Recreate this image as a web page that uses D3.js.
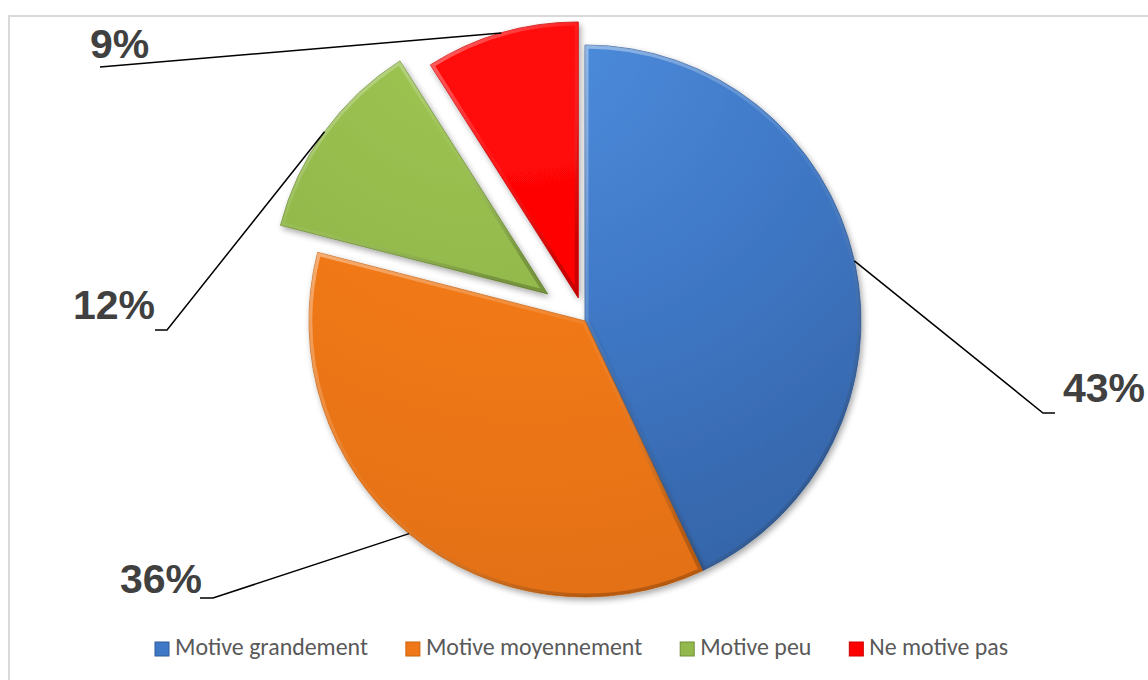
<!DOCTYPE html>
<html><head><meta charset="utf-8">
<script src="https://cdn.jsdelivr.net/npm/d3@7"></script>
<style>body{margin:0;background:#fff}svg{display:block}</style>
</head><body>
<svg id="c" width="1148" height="680"></svg>
<script>
const categories = ["Motive grandement","Motive moyennement","Motive peu","Ne motive pas"];
const values = [43, 36, 12, 9];
const labels = ["43%","36%","12%","9%"];

// styles / layout (not data)
const colors = [
  {light:"#4e8fde", base:"#3f78c6", dark:"#3463a6", edge:"#2f5b98"},
  {light:"#f47d1c", base:"#f07818", dark:"#e27012", edge:"#c8620c"},
  {light:"#a0c853", base:"#93b94c", dark:"#86a944", edge:"#708e38"},
  {light:"#ff1010", base:"#ff0000", dark:"#f40000", edge:"#cc0000"}
];
const explode = [0, 0, 46, 24];
const cx = 585, cy = 321, R = 276;
const labelLayout = [
  {elbow:[1043,413], end:[1055,413], tx:1063, ty:402, anchor:"start"},
  {elbow:[213,598], end:[200,598], tx:202, ty:593, anchor:"end"},
  {elbow:[167,330], end:[155,330], tx:155, ty:319, anchor:"end"},
  {elbow:[100,67], end:[100,67], tx:90, ty:58, anchor:"start"}
];

const svg = d3.select("#c");
const defs = svg.append("defs");
const f = defs.append("filter").attr("id","sh").attr("x","-20%").attr("y","-20%").attr("width","140%").attr("height","140%");
f.append("feGaussianBlur").attr("in","SourceAlpha").attr("stdDeviation",3).attr("result","b");
f.append("feOffset").attr("in","b").attr("dx",2).attr("dy",3).attr("result","o");
f.append("feComponentTransfer").attr("in","o").attr("result","o2").append("feFuncA").attr("type","linear").attr("slope",0.35);
const m = f.append("feMerge"); m.append("feMergeNode").attr("in","o2"); m.append("feMergeNode").attr("in","SourceGraphic");

colors.forEach((c,i)=>{
  const g = defs.append("radialGradient").attr("id","g"+i).attr("gradientUnits","userSpaceOnUse")
    .attr("cx",-60).attr("cy",-300).attr("r",R*2.2);
  g.append("stop").attr("offset","0%").attr("stop-color",c.light);
  g.append("stop").attr("offset","50%").attr("stop-color",c.base);
  g.append("stop").attr("offset","100%").attr("stop-color",c.dark);
  const lg = defs.append("linearGradient").attr("id","lg"+i).attr("x1",0).attr("y1",0).attr("x2",0.7).attr("y2",1);
  lg.append("stop").attr("offset","0%").attr("stop-color","#ffffff").attr("stop-opacity",0.4);
  lg.append("stop").attr("offset","50%").attr("stop-color","#ffffff").attr("stop-opacity",0.05);
  lg.append("stop").attr("offset","100%").attr("stop-color","#000000").attr("stop-opacity",0.2);
});

// border
svg.append("rect").attr("x",9).attr("y",16).attr("width",1160).attr("height",700)
  .attr("fill","none").attr("stroke","#d9d9d9").attr("stroke-width",2);

const pie = d3.pie().sort(null).value(d=>d)(values);
const arc = d3.arc().innerRadius(0).outerRadius(R);

const gPie = svg.append("g").attr("transform",`translate(${cx},${cy})`);
pie.forEach((p,i)=>{
  const mid = (p.startAngle+p.endAngle)/2;
  const dx = explode[i]*Math.sin(mid), dy = -explode[i]*Math.cos(mid);
  defs.append("clipPath").attr("id","cp"+i).append("path").attr("d",arc(p));
  const g = gPie.append("g").attr("transform",`translate(${dx},${dy})`);
  g.append("path").attr("d",arc(p)).attr("fill",`url(#g${i})`).attr("filter","url(#sh)")
    .attr("stroke",colors[i].edge).attr("stroke-width",0.8);
  g.append("path").attr("d",arc(p)).attr("fill","none").attr("stroke",`url(#lg${i})`).attr("stroke-width",7)
    .attr("stroke-linejoin","round").attr("clip-path",`url(#cp${i})`);
  // leader
  const L = labelLayout[i];
  const sx = cx + dx + R*Math.sin(mid), sy = cy + dy - R*Math.cos(mid);
  svg.append("polyline").attr("points",[[sx,sy],L.elbow,L.end].map(q=>q.join(",")).join(" "))
    .attr("fill","none").attr("stroke","#000").attr("stroke-width",1.5);
  svg.append("text").attr("x",L.tx).attr("y",L.ty).attr("text-anchor",L.anchor)
    .attr("font-family","'Liberation Sans', Arial, sans-serif").attr("font-weight","bold")
    .attr("font-size",41).attr("fill","#404040").text(labels[i]);
});

// legend
const leg = svg.append("g");
const fs = 20;
const fam = "Carlito, 'Open Sans', 'Liberation Sans', sans-serif";
const probe = leg.append("text").attr("font-family",fam).attr("font-size",fs).text(categories[0]);
const w0 = probe.node().getComputedTextLength();
probe.remove();
const lfs = fs*193/w0;
let x = 155;
categories.forEach((c,i)=>{
  leg.append("rect").attr("x",x).attr("y",642).attr("width",14).attr("height",14)
    .attr("fill",colors[i].base).attr("stroke",colors[i].edge).attr("stroke-width",1);
  const t = leg.append("text").attr("x",x+20).attr("y",655)
    .attr("font-family",fam).attr("font-size",lfs)
    .attr("fill","#595959").text(c);
  x += 20 + t.node().getComputedTextLength() + 38;
});
</script>
</body></html>
